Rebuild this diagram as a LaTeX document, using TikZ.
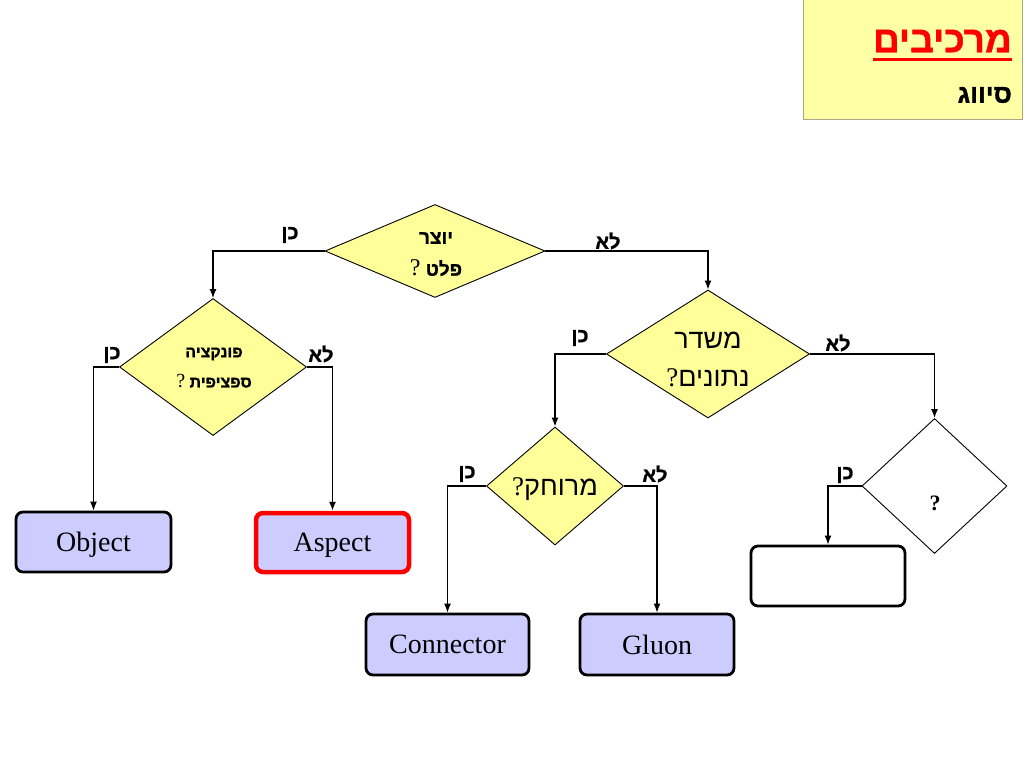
\documentclass[tikz,border=0pt]{standalone}
\usepackage{fontspec}
\setmainfont{Liberation Serif}
\newfontfamily\heb[Script=Hebrew]{Liberation Sans}
\newfontfamily\hebb[Script=Hebrew,FakeBold=1.2]{Liberation Sans Bold}
\TeXXeTstate=1
\usetikzlibrary{shapes.geometric,arrows.meta}
\definecolor{dyel}{HTML}{FFFF99}
\definecolor{tyel}{HTML}{FFFFA6}
\definecolor{lav}{HTML}{CCCCFF}
\definecolor{tborder}{HTML}{A8A888}
\begin{document}
\begin{tikzpicture}[x=1pt,y=-1pt,
  dia/.style={draw=black,line width=0.9pt,shape=diamond,inner sep=0pt,fill=dyel},
  box/.style={draw=black,line width=2.8pt,rounded corners=7pt,fill=lav,inner sep=0pt,text depth=0pt,font=\fontsize{28}{32}\selectfont},
  conn/.style={line width=1.3pt,-{Latex[length=9pt,width=7pt]}},
  lab/.style={font=\hebb\fontsize{20}{22}\selectfont,inner sep=0pt},
  dtxt/.style={font=\hebb\fontsize{19}{22}\selectfont,inner sep=0pt},
  dtxtb/.style={font=\heb\fontsize{27}{30}\selectfont,inner sep=0pt}]
\useasboundingbox (0,0) rectangle (1024,768);
\fill[white] (0,0) rectangle (1024,768);
% title
\node[draw=tborder,fill=tyel,line width=1pt,minimum width=219pt,minimum height=119pt,inner sep=0pt] (title) at (912.5,59.5) {};
\node[anchor=east,inner sep=0pt,text=red,font=\hebb\fontsize{37}{40}\selectfont] (t1) at (1012,41) {\beginR מרכיבים\endR};
\draw[red,line width=3.5pt] (t1.south west) ++(0,7) coordinate (ul1) -- (ul1 -| t1.south east) coordinate (ul2);
\node[anchor=east,inner sep=0pt,font=\hebb\fontsize{26}{28}\selectfont] (t2) at (1012,95) {\beginR סיווג\endR};
% diamonds
\node[dia,minimum width=220pt,minimum height=93pt] (d1) at (435,251) {};
\node[dia,minimum width=187pt,minimum height=137pt] (d2) at (213,367) {};
\node[dia,minimum width=203pt,minimum height=128pt] (d3) at (708,354) {};
\node[dia,minimum width=137pt,minimum height=118pt] (d4) at (555,486) {};
\node[dia,fill=white,minimum width=145pt,minimum height=135pt] (d5) at (934.5,486) {};
% diamond texts
\node[dtxt] (d1a) at (436,238) {\beginR יוצר\endR};
\node[dtxt] (d1b) at (436,268) {\beginR פלט {\rmfamily\mdseries\fontsize{24}{26}\selectfont ?}\endR};
\node[dtxt,font=\hebb\fontsize{16}{20}\selectfont] (d2a) at (214,354) {\beginR פונקציה\endR};
\node[dtxt,font=\hebb\fontsize{16}{20}\selectfont] (d2b) at (214,381) {\beginR ספציפית {\rmfamily\mdseries\fontsize{20}{22}\selectfont ?}\endR};
\node[dtxtb] (d3a) at (708,340) {\beginR משדר\endR};
\node[dtxtb] (d3b) at (708,378) {\beginR נתונים{\rmfamily\fontsize{27}{30}\selectfont ?}\endR};
\node[dtxtb] (d4a) at (555,489) {\beginR מרוחק{\rmfamily\fontsize{27}{30}\selectfont ?}\endR};
\node[inner sep=0pt,font=\bfseries\fontsize{22}{24}\selectfont] (d5a) at (935,503) {?};
% boxes
\node[box,minimum width=155pt,minimum height=60pt] (obj) at (93.5,542) {Object};
\node[box,draw=red,line width=4.5pt,minimum width=153pt,minimum height=59pt] (asp) at (332.5,542.5) {Aspect};
\node[box,minimum width=163pt,minimum height=61pt] (con) at (447.5,644.5) {Connector};
\node[box,minimum width=154pt,minimum height=61pt] (glu) at (657,644.5) {Gluon};
\node[box,fill=white,minimum width=154pt,minimum height=60pt] (emp) at (828,576) {};
% connectors
\draw[conn] (d1.west) -| (d2.north);
\draw[conn] (d1.east) -| (d3.north);
\draw[conn] (d2.west) -| (obj.north);
\draw[conn] (d2.east) -| (asp.north);
\draw[conn] (d3.west) -| (d4.north);
\draw[conn] (d3.east) -| (d5.north);
\draw[conn] (d4.west) -| (con.north);
\draw[conn] (d4.east) -| (glu.north);
\draw[conn] (d5.west) -| (emp.north);
% yes/no labels
\node[lab] (l1) at (290,235) {\beginR כן\endR};
\node[lab] (l2) at (608,241) {\beginR לא\endR};
\node[lab] (l3) at (112,355) {\beginR כן\endR};
\node[lab] (l4) at (321,354) {\beginR לא\endR};
\node[lab] (l5) at (580,338) {\beginR כן\endR};
\node[lab] (l6) at (838,343) {\beginR לא\endR};
\node[lab] (l7) at (467,474) {\beginR כן\endR};
\node[lab] (l8) at (655,474) {\beginR לא\endR};
\node[lab] (l9) at (845,475) {\beginR כן\endR};
\end{tikzpicture}
\end{document}
